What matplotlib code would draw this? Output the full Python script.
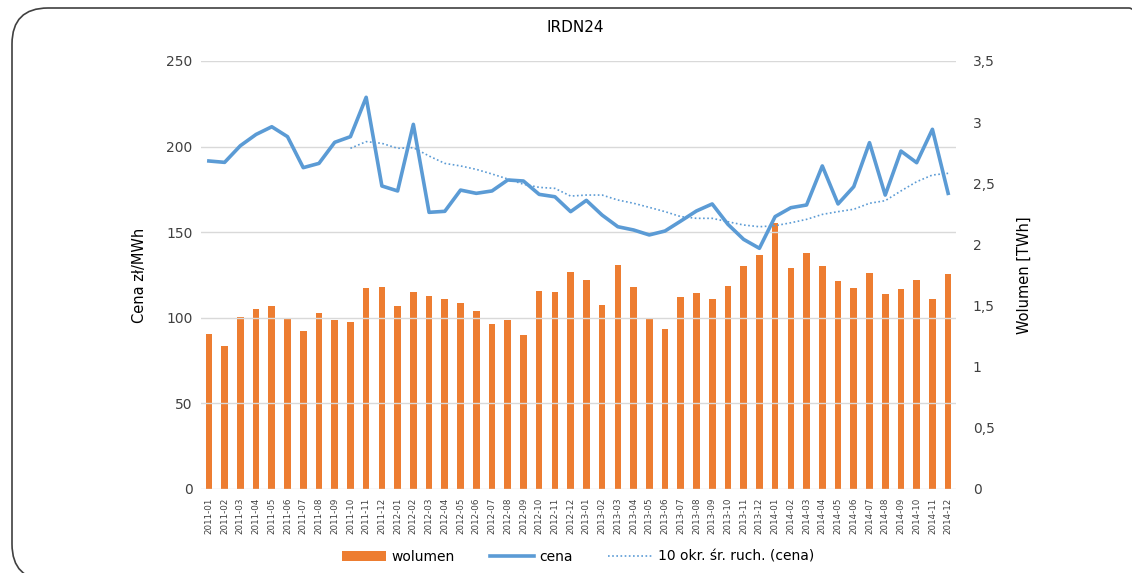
import matplotlib
matplotlib.use('Agg')
import matplotlib.pyplot as plt
from matplotlib.patches import FancyBboxPatch
from matplotlib.transforms import IdentityTransform
from matplotlib.ticker import FuncFormatter

# miesiace 2011-01 .. 2014-12
months = ['%d-%02d' % (y, m) for y in range(2011, 2015) for m in range(1, 13)]

# wolumen [TWh]
wolumen = [1.265, 1.169, 1.409, 1.472, 1.496, 1.393, 1.292, 1.439, 1.385, 1.368, 1.644, 1.652,
           1.496, 1.611, 1.576, 1.551, 1.524, 1.456, 1.352, 1.385, 1.257, 1.619, 1.611, 1.774,
           1.712, 1.505, 1.832, 1.652, 1.396, 1.308, 1.568, 1.600, 1.551, 1.660, 1.824, 1.911,
           2.178, 1.807, 1.930, 1.824, 1.703, 1.644, 1.766, 1.592, 1.635, 1.712, 1.551, 1.758]

# cena [zl/MWh]
cena = [191.6, 190.8, 200.5, 207.1, 211.6, 205.8, 187.7, 190.2, 202.5, 205.8, 228.8, 177.0,
        174.1, 213.0, 161.6, 162.2, 174.6, 172.7, 174.1, 180.5, 179.9, 172.1, 170.7, 162.0,
        168.6, 160.0, 153.2, 151.3, 148.4, 150.7, 156.5, 162.4, 166.5, 154.6, 145.8, 140.6,
        159.1, 164.3, 165.9, 188.7, 166.5, 176.6, 202.3, 171.7, 197.4, 190.6, 210.1, 172.7]

# 10 okr. sr. ruch. (od 2011-10)
sr_ruch = [199.0, 202.9, 201.9,
           199.0, 199.4, 194.5, 190.2, 188.7, 186.7, 184.0, 181.1, 178.0, 176.2, 175.6, 171.1,
           171.7, 171.7, 168.8, 166.9, 164.5, 162.0, 159.1, 158.1, 158.1, 156.1, 154.2, 153.2,
           153.8, 155.5, 157.5, 160.4, 162.0, 163.4, 166.9, 168.4, 174.1, 179.5, 183.4, 184.4]

blue = '#5B9BD5'
orange = '#ED7D31'
grid = '#D9D9D9'
txt = '#404040'

W, H = 1132, 573
fig = plt.figure(figsize=(W / 100, H / 100), dpi=100)

# ramka wykresu (zaokraglona), w pikselach
frame = FancyBboxPatch((12, H - 580), 1165 - 12, 580 - 8,
                       boxstyle='round,pad=0,rounding_size=36',
                       transform=IdentityTransform(), fill=False, edgecolor='#404040',
                       linewidth=1.2, clip_on=False)
fig.patches.append(frame)

ax = fig.add_axes([201 / W, 1 - 489 / H, (956 - 201) / W, (489 - 61) / H])
ax2 = ax.twinx()

x = list(range(len(months)))
ax2.bar(x, wolumen, width=0.42, color=orange, label='wolumen', zorder=2)
ax2.set_ylim(0, 3.5)
ax2.set_yticks([0, 0.5, 1, 1.5, 2, 2.5, 3, 3.5])
ax2.yaxis.set_major_formatter(FuncFormatter(lambda v, p: ('%g' % v).replace('.', ',')))

ax.set_ylim(0, 250)
ax.set_yticks(range(0, 251, 50))
ax.set_xlim(-0.5, len(months) - 0.5)
ax.grid(axis='y', color=grid, linewidth=1.0)
ax.set_axisbelow(True)

# linie na wierzchu slupkow
ax.set_zorder(ax2.get_zorder() + 1)
ax.patch.set_visible(False)
ax.plot(x, cena, color=blue, linewidth=2.6, solid_joinstyle='round', label='cena')
ax.plot(x[9:], sr_ruch, color=blue, linewidth=1.2, linestyle=(0, (1, 1.5)),
        label='10 okr. śr. ruch. (cena)')

for a in (ax, ax2):
    for s in a.spines.values():
        s.set_visible(False)
    a.tick_params(length=0, colors=txt, labelsize=10)

ax.set_xticks(x)
ax.set_xticklabels(months, rotation=90, fontsize=6.3)
ax.tick_params(axis='x', pad=6)
ax.tick_params(axis='y', pad=6)
ax2.tick_params(axis='y', pad=12)

ax.set_ylabel('Cena zł/MWh', fontsize=10.5, color='black', labelpad=14)
ax2.set_ylabel('Wolumen [TWh]', fontsize=10.5, color='black', labelpad=16)

fig.text(575 / W, 1 - 28 / H, 'IRDN24', ha='center', va='center', fontsize=11)

h2, l2 = ax2.get_legend_handles_labels()
h1, l1 = ax.get_legend_handles_labels()
fig.legend(h2 + h1, l2 + l1, loc='center', bbox_to_anchor=(578 / W, 1 - 557 / H),
           ncol=3, frameon=False, fontsize=10, handlelength=3.2, columnspacing=2.5,
           handletextpad=0.4)

fig.savefig('out.png', dpi=100)
